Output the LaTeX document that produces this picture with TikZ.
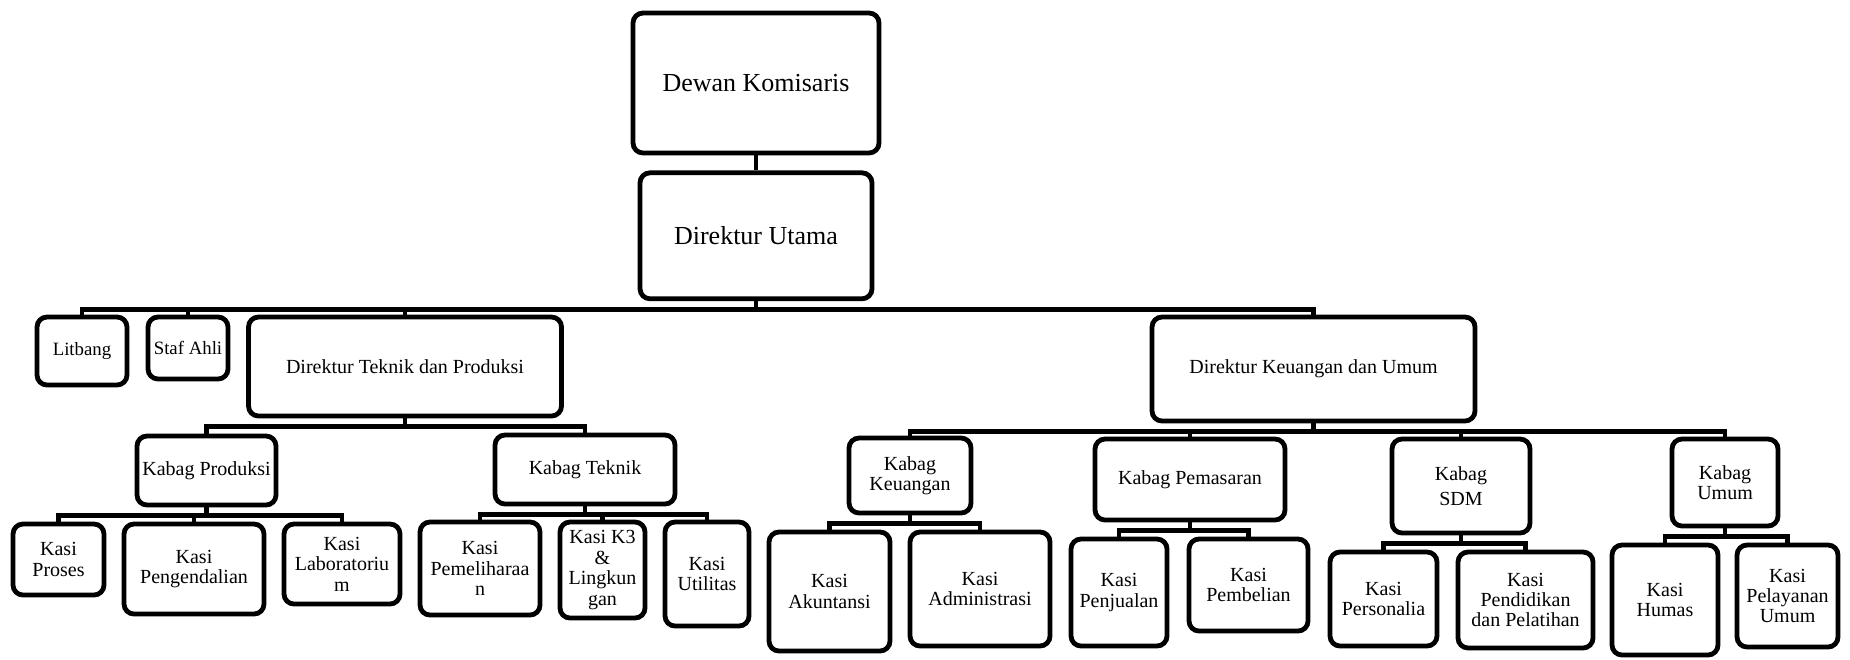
\documentclass[tikz,border=0pt]{standalone}
\usepackage{fontspec}
\setmainfont{Liberation Serif}
\usepackage{tikz}
\usetikzlibrary{positioning}

\begin{document}
\begin{tikzpicture}[
    x=0.5pt, y=-0.5pt,
    orgbox/.style={draw, line width=2.4pt, rounded corners=5pt, align=center, inner sep=1pt},
    bigbox/.style={orgbox, font=\fontsize{13}{15}\selectfont},
    smallbox/.style={orgbox, font=\fontsize{9.4}{10}\selectfont},
    unitbox/.style={orgbox, font=\fontsize{10}{10.2}\selectfont},
    link/.style={line width=2.4pt}
]
\useasboundingbox (0,0) rectangle (1850,659);
% pimpinan
\node[bigbox, minimum width=123pt, minimum height=70pt](komisaris) at (756,83){Dewan Komisaris};
\node[bigbox, minimum width=116pt, minimum height=63pt](utama)[below=7.5pt of komisaris]{Direktur Utama};
\node[smallbox, minimum width=45pt, minimum height=34pt](litbang) at (82,351){Litbang};
\node[smallbox, minimum width=40pt, minimum height=31pt](stafahli) at (188,348){Staf Ahli};
\node[unitbox, minimum width=156.5pt, minimum height=49.5pt](dirtek) at (405,366.5){Direktur Teknik dan Produksi};
\node[unitbox, minimum width=161.5pt, minimum height=52pt](dirkeu) at (1313.5,369){Direktur Keuangan dan Umum};
% kabag
\node[unitbox, minimum width=69.5pt, minimum height=34.5pt](kbprod) at (206.5,470.5){Kabag Produksi};
\node[unitbox, minimum width=90pt, minimum height=34.5pt](kbtek) at (585,469.5){Kabag Teknik};
\node[unitbox, minimum width=61pt, minimum height=37.5pt](kbkeu) at (910,475.5){Kabag\\Keuangan};
\node[unitbox, minimum width=95pt, minimum height=40.5pt](kbpem) at (1190,479.5){Kabag Pemasaran};
\node[unitbox, minimum width=69pt, minimum height=47pt, font=\fontsize{10}{12.5}\selectfont](kbsdm) at (1461,486){Kabag\\SDM};
\node[unitbox, minimum width=53pt, minimum height=43.5pt](kbumum) at (1725,482.5){Kabag\\Umum};
% kasi
\node[unitbox, minimum width=45.5pt, minimum height=35.5pt](ksproses) at (58.5,559.5){Kasi\\Proses};
\node[unitbox, minimum width=70pt, minimum height=45pt](kspeng) at (194,569){Kasi\\Pengendalian};
\node[unitbox, minimum width=58pt, minimum height=40pt](kslab) at (342,564){Kasi\\Laboratoriu\\m};
\node[unitbox, minimum width=60pt, minimum height=46.5pt](kspel) at (480,568.5){Kasi\\Pemeliharaa\\n};
\node[unitbox, minimum width=42.5pt, minimum height=48pt](ksktiga) at (602.5,570){Kasi K3\\\&\\Lingkun\\gan};
\node[unitbox, minimum width=42pt, minimum height=52pt](ksutil) at (707,574){Kasi\\Utilitas};
\node[unitbox, minimum width=60.5pt, minimum height=59.5pt](ksakun) at (829.5,591.5){Kasi\\Akuntansi};
\node[unitbox, minimum width=70pt, minimum height=57pt](ksadm) at (980,589){Kasi\\Administrasi};
\node[unitbox, minimum width=48pt, minimum height=53.5pt](ksjual) at (1119,592.5){Kasi\\Penjualan};
\node[unitbox, minimum width=59.5pt, minimum height=46pt](ksbeli) at (1248.5,585){Kasi\\Pembelian};
\node[unitbox, minimum width=53.5pt, minimum height=47pt](ksperson) at (1383.5,599){Kasi\\Personalia};
\node[unitbox, minimum width=67.5pt, minimum height=48pt](ksdidik) at (1525.5,600){Kasi\\Pendidikan\\dan Pelatihan};
\node[unitbox, minimum width=53pt, minimum height=55pt](kshumas) at (1665,600){Kasi\\Humas};
\node[unitbox, minimum width=50.5pt, minimum height=51pt](kslayan) at (1787.5,596){Kasi\\Pelayanan\\Umum};
% garis
\draw[link] (komisaris.south) -- (utama.north);
\draw[link] (utama.south) -- ++(0,8) -| (litbang.north);
\draw[link] (utama.south) -- ++(0,8) -| (stafahli.north);
\draw[link] (utama.south) -- ++(0,8) -| (dirtek.north);
\draw[link] (utama.south) -- ++(0,8) -| (dirkeu.north);
\draw[link] (dirtek.south) -- ++(0,8) -| (kbprod.north);
\draw[link] (dirtek.south) -- ++(0,8) -| (kbtek.north);
\draw[link] (dirkeu.south) -- ++(0,8) -| (kbkeu.north);
\draw[link] (dirkeu.south) -- ++(0,8) -| (kbpem.north);
\draw[link] (dirkeu.south) -- ++(0,8) -| (kbsdm.north);
\draw[link] (dirkeu.south) -- ++(0,8) -| (kbumum.north);
\draw[link] (kbprod.south) -- ++(0,8) -| (ksproses.north);
\draw[link] (kbprod.south) -- ++(0,8) -| (kspeng.north);
\draw[link] (kbprod.south) -- ++(0,8) -| (kslab.north);
\draw[link] (kbtek.south) -- ++(0,8) -| (kspel.north);
\draw[link] (kbtek.south) -- ++(0,8) -| (ksktiga.north);
\draw[link] (kbtek.south) -- ++(0,8) -| (ksutil.north);
\draw[link] (kbkeu.south) -- ++(0,8) -| (ksakun.north);
\draw[link] (kbkeu.south) -- ++(0,8) -| (ksadm.north);
\draw[link] (kbpem.south) -- ++(0,8) -| (ksjual.north);
\draw[link] (kbpem.south) -- ++(0,8) -| (ksbeli.north);
\draw[link] (kbsdm.south) -- ++(0,8) -| (ksperson.north);
\draw[link] (kbsdm.south) -- ++(0,8) -| (ksdidik.north);
\draw[link] (kbumum.south) -- ++(0,8) -| (kshumas.north);
\draw[link] (kbumum.south) -- ++(0,8) -| (kslayan.north);
\end{tikzpicture}
\end{document}
